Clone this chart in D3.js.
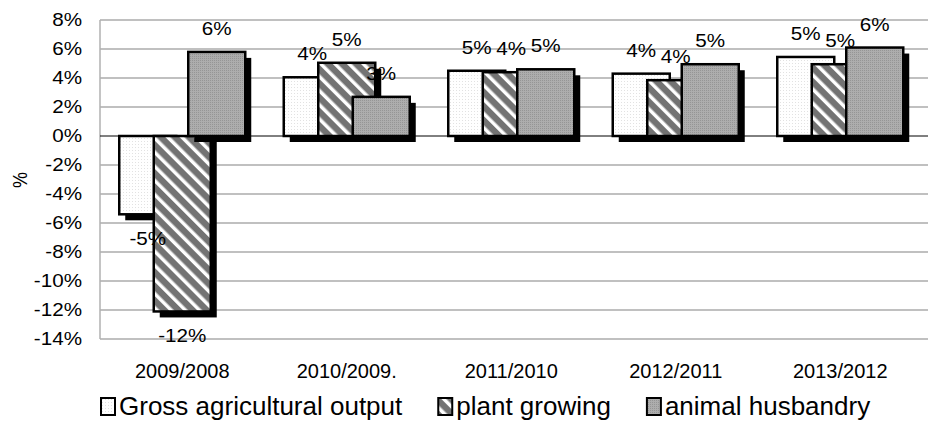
<!DOCTYPE html>
<html>
<head>
<meta charset="utf-8">
<script src="https://cdn.jsdelivr.net/npm/d3@7"></script>
<style>
  html, body { margin: 0; padding: 0; background: #fff; }
  svg { display: block; font-family: "Liberation Sans", Arial, sans-serif; }
</style>
</head>
<body>
<svg id="chart"></svg>
<script>
const categories = ['2009/2008', '2010/2009.', '2011/2010', '2012/2011', '2013/2012'];
const seriesNames = ['Gross agricultural output', 'plant growing', 'animal husbandry'];
const grossOutput = [-5.4, 4.05, 4.5, 4.3, 5.45];
const plantGrowing = [-12.1, 5.05, 4.4, 3.85, 4.95];
const animalHusbandry = [5.8, 2.7, 4.6, 4.95, 6.1];
const tickValues = [-14, -12, -10, -8, -6, -4, -2, 0, 2, 4, 6, 8];

const width = 928, height = 422;
const series = [grossOutput, plantGrowing, animalHusbandry];
const fills = ['url(#dots)', 'url(#stripes)', 'url(#grayDots)'];

const svg = d3.select('#chart').attr('width', width).attr('height', height);

// patterns for the bar fills
const defs = svg.append('defs');
const dots = defs.append('pattern').attr('id', 'dots')
  .attr('patternUnits', 'userSpaceOnUse').attr('width', 3).attr('height', 3);
dots.append('rect').attr('width', 3).attr('height', 3).attr('fill', '#fff');
dots.append('rect').attr('width', 1).attr('height', 1).attr('fill', '#e2e2e2');

const stripes = defs.append('pattern').attr('id', 'stripes')
  .attr('patternUnits', 'userSpaceOnUse').attr('width', 10).attr('height', 10)
  .attr('patternTransform', 'rotate(-45)');
stripes.append('rect').attr('width', 10).attr('height', 10).attr('fill', '#737373');
stripes.append('rect').attr('width', 3.5).attr('height', 10).attr('fill', '#fff');

const grayDots = defs.append('pattern').attr('id', 'grayDots')
  .attr('patternUnits', 'userSpaceOnUse').attr('width', 2).attr('height', 2);
grayDots.append('rect').attr('width', 2).attr('height', 2).attr('fill', '#adadad');
grayDots.append('rect').attr('width', 1).attr('height', 1).attr('fill', '#959595');

const x = d3.scaleBand().domain(categories).range([100, 922.5]);
const y = d3.scaleLinear().domain([-14, 8]).range([339, 20]);

const barW = 57;    // width of one bar
const barStep = 34.5; // bars overlap each other
const groupOffset = (x.bandwidth() - (barStep * 2 + barW)) / 2;
const shadow = 6;

// gridlines
svg.append('g').selectAll('line').data(tickValues).join('line')
  .attr('x1', 100).attr('x2', width)
  .attr('y1', d => y(d)).attr('y2', d => y(d))
  .attr('stroke', d => d === 0 ? 'none' : '#c0c0c0')
  .attr('stroke-width', 2);

// left axis line
svg.append('line')
  .attr('x1', 100).attr('x2', 100).attr('y1', y(8)).attr('y2', y(-14))
  .attr('stroke', '#b0b0b0').attr('stroke-width', 1.5);

// tick labels
svg.append('g').selectAll('text').data(tickValues).join('text')
  .attr('transform', d => `translate(82,${y(d)}) scale(1.18,1)`)
  .attr('dy', '0.36em')
  .attr('text-anchor', 'end')
  .attr('font-size', 17.5)
  .attr('fill', '#000')
  .text(d => d + '%');

// y title
svg.append('text')
  .attr('transform', `translate(20,${180}) rotate(-90) scale(1,1.15)`)
  .attr('dy', '0.36em')
  .attr('text-anchor', 'middle')
  .attr('font-size', 18)
  .text('%');

// bars
const barsG = svg.append('g');
categories.forEach((cat, ci) => {
  series.forEach((vals, si) => {
    const v = vals[ci];
    const bx = x(cat) + groupOffset + si * barStep;
    const top = Math.min(y(v), y(0));
    const h = Math.abs(y(v) - y(0));
    barsG.append('rect')
      .attr('x', bx + shadow).attr('y', top + shadow)
      .attr('width', barW).attr('height', h)
      .attr('fill', '#000');
    barsG.append('rect')
      .attr('x', bx).attr('y', top)
      .attr('width', barW).attr('height', h)
      .attr('fill', fills[si])
      .attr('stroke', '#000').attr('stroke-width', 2.5);
  });
});

// zero line
svg.append('line')
  .attr('x1', 100).attr('x2', width).attr('y1', y(0)).attr('y2', y(0))
  .attr('stroke', '#000').attr('stroke-width', 1);

// data labels
const labelsG = svg.append('g');
categories.forEach((cat, ci) => {
  series.forEach((vals, si) => {
    const v = vals[ci];
    const cx = x(cat) + groupOffset + si * barStep + barW / 2;
    const ly = v >= 0 ? y(v) - 17 : y(v) + 31;
    labelsG.append('text')
      .attr('transform', `translate(${cx},${ly}) scale(1.18,1)`)
      .attr('text-anchor', 'middle')
      .attr('font-size', 17.5)
      .text(Math.round(v) + '%');
  });
});

// category labels
svg.append('g').selectAll('text').data(categories).join('text')
  .attr('x', d => x(d) + x.bandwidth() / 2)
  .attr('y', 378)
  .attr('text-anchor', 'middle')
  .attr('font-size', 20)
  .text(d => d);

// legend
const legend = svg.append('g');
let lx = 101;
seriesNames.forEach((name, i) => {
  legend.append('rect')
    .attr('x', lx).attr('y', 398).attr('width', 14).attr('height', 17)
    .attr('fill', fills[i]).attr('stroke', '#000').attr('stroke-width', 2);
  const t = legend.append('text')
    .attr('x', lx + 18).attr('y', 415)
    .attr('font-size', 26)
    .text(name);
  lx += 18 + t.node().getComputedTextLength() + 36;
});
</script>
</body>
</html>
